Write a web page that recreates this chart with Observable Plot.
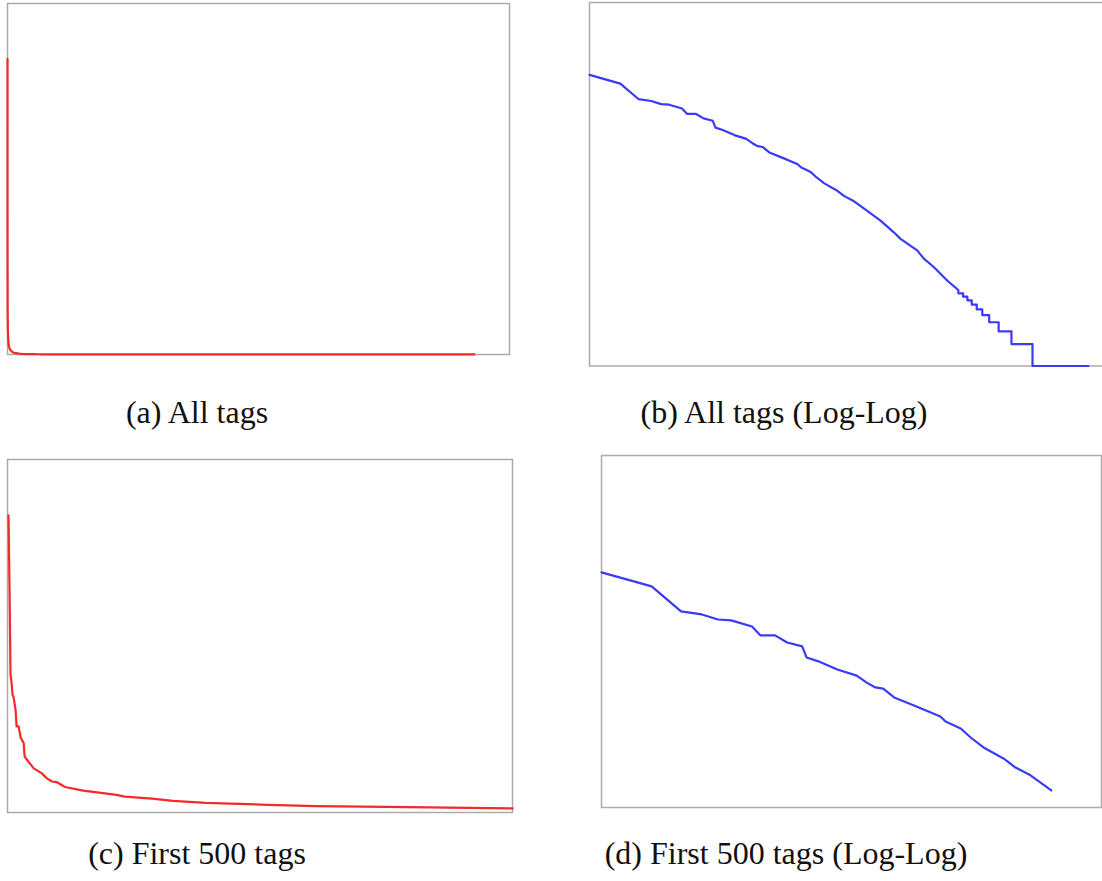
<!DOCTYPE html>
<html>
<head>
<meta charset="utf-8">
<script src="https://cdn.jsdelivr.net/npm/d3@7"></script>
<script src="https://cdn.jsdelivr.net/npm/@observablehq/plot@0.6"></script>
<style>
  html, body { margin: 0; padding: 0; background: #fff; overflow: hidden; width: 1102px; height: 881px; }
  .panel { position: absolute; }
  .panel svg { max-width: none !important; display: block; }
  .cap { position: absolute; width: 600px; text-align: center; font-family: "Liberation Serif", "DejaVu Serif", serif;
         font-size: 32px; line-height: 32px; color: #111; white-space: nowrap; }
</style>
</head>
<body>
<div id="pa" class="panel"></div>
<div id="pb" class="panel"></div>
<div id="pc" class="panel"></div>
<div id="pd" class="panel"></div>
<div id="ca" class="cap"></div>
<div id="cb" class="cap"></div>
<div id="cc" class="cap"></div>
<div id="cd" class="cap"></div>
<script>
// Tag rank (1 = most frequent) and number of occurrences
const ranks = [1, 2, 3, 4, 5, 6, 8, 9, 11, 13, 16, 17, 20, 26, 34, 39, 44, 49, 57, 75,
  108, 116, 143, 164, 196, 258, 305, 375, 500,
  695, 937, 1090, 1585, 1840, 2300, 3110, 3750, 4000, 4000, 4450, 4450, 4900, 4900,
  5400, 5400, 6050, 6050, 6850, 6850, 8000, 8000, 9900, 9900, 13200, 13200, 21200, 21200, 74400];
const counts = [10100, 7660, 4700, 4420, 4000, 3930, 3490, 2930, 2930, 2550, 2360, 1900, 1760, 1500, 1330, 1160, 1055, 1030, 867, 741,
  597, 541, 471, 395, 325, 262, 219, 188, 140,
  100, 69, 56, 39, 30, 23, 15, 12, 11, 10, 10, 9, 9, 8,
  8, 7, 7, 6, 6, 5, 5, 4, 4, 3, 3, 2, 2, 1, 1];
const captions = ["(a) All tags", "(b) All tags (Log-Log)", "(c) First 500 tags", "(d) First 500 tags (Log-Log)"];
const firstN = 500;

const allTags = ranks.map((r, i) => ({rank: r, count: counts[i]}));
const firstTags = allTags.filter(d => d.rank <= firstN);

const RED = "#f22a2a", BLUE = "#3a3af7", FRAME = "#ababab";
const M = 2;

function panel(id, box, data, xOpt, yOpt, color) {
  const el = document.getElementById(id);
  const W = box.w + 2 * M, H = box.h + 2 * M;
  el.style.left = (box.x - M) + "px";
  el.style.top = (box.y - M) + "px";
  el.style.width = W + "px";
  el.style.height = H + "px";
  const chart = Plot.plot({
    width: W, height: H,
    marginTop: M, marginRight: M, marginBottom: M, marginLeft: M,
    x: {...xOpt, axis: null},
    y: {...yOpt, axis: null},
    marks: [
      Plot.frame({stroke: FRAME, strokeWidth: 1.5}),
      Plot.line(data, {x: "rank", y: "count", stroke: color, strokeWidth: 2.2})
    ]
  });
  el.append(chart);
}

panel("pa", {x: 7, y: 3, w: 502, h: 351}, allTags,
  {type: "linear", domain: [0, 80000]}, {type: "linear", domain: [0, 12000]}, RED);
panel("pb", {x: 589, y: 2, w: 518, h: 363.5}, allTags,
  {type: "log", domain: [1, 1e5], range: [M, M + 512]}, {type: "log", domain: [1, 1e5]}, BLUE);
panel("pc", {x: 7, y: 459, w: 505, h: 353}, firstTags,
  {type: "linear", domain: [0, firstN]}, {type: "linear", domain: [0, 12000]}, RED);
panel("pd", {x: 601, y: 455, w: 500, h: 352}, firstTags,
  {type: "log", domain: [1, 1000]}, {type: "log", domain: [100, 1e5]}, BLUE);

function cap(id, text, cx, top) {
  const el = document.getElementById(id);
  el.textContent = text;
  el.style.left = (cx - 300) + "px";
  el.style.top = top + "px";
}
cap("ca", captions[0], 197, 396);
cap("cb", captions[1], 784, 396);
cap("cc", captions[2], 197, 837);
cap("cd", captions[3], 786, 837);
</script>
</body>
</html>
